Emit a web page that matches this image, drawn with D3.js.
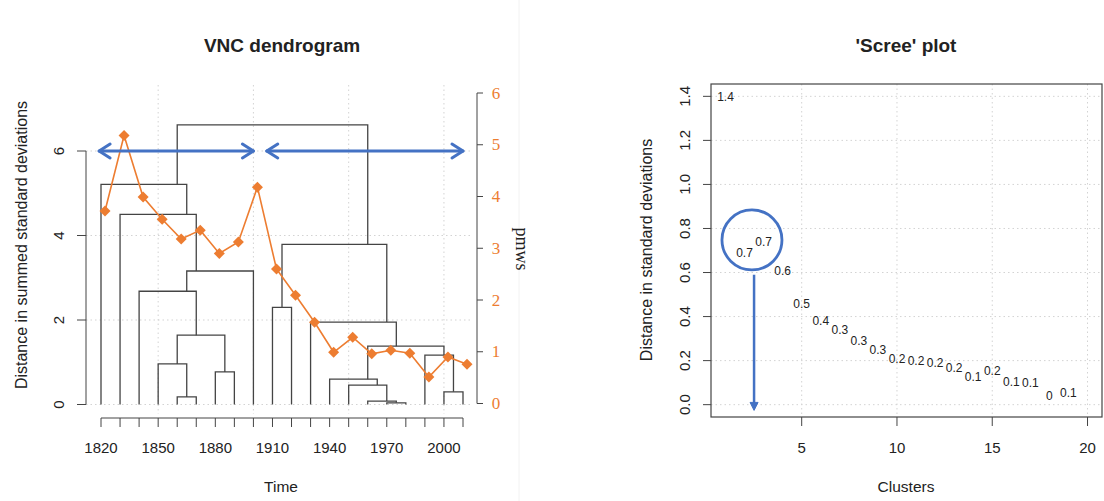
<!DOCTYPE html>
<html>
<head>
    <meta charset="utf-8">
    <title>VNC dendrogram and scree plot</title>
    <style>
        body { margin: 0; background: #fff; }
        text { font-family: "Liberation Sans", Arial, sans-serif; fill: #222; }
        .serif { font-family: "Liberation Serif", "Times New Roman", serif; }
        .grid { stroke: #d3d3d3; stroke-width: 1; stroke-dasharray: 1.5 3; fill: none; }
        .ax { stroke: #444; stroke-width: 1; fill: none; }
    </style>
    <script src="https://d3js.org/d3.v7.min.js"></script>
</head>
<body>
<svg id="chart"></svg>
<script>
    // ---- data ----
    const years = [1820, 1830, 1840, 1850, 1860, 1870, 1880, 1890, 1900, 1910,
        1920, 1930, 1940, 1950, 1960, 1970, 1980, 1990, 2000, 2010];
    const pmws = [3.72, 5.18, 3.99, 3.56, 3.18, 3.35, 2.90, 3.12, 4.18, 2.60,
        2.09, 1.57, 0.99, 1.28, 0.96, 1.03, 0.97, 0.51, 0.90, 0.76];
    // hclust style merges: negative = leaf number (1-based), positive = earlier merge row
    const mergeLeft = [-5, -4, -7, 2, -3, 5, -2, -1, -16, -15, -14, -13, -19, -18, 12, -12, -10, 17, 8];
    const mergeRight = [-6, 1, -8, 3, 4, -9, 6, 7, -17, 9, 10, 11, -20, 13, 14, 15, -11, 16, 18];
    const mergeHeight = [0.18, 0.96, 0.77, 1.64, 2.68, 3.16, 4.50, 5.21, 0.04, 0.08,
        0.46, 0.60, 0.30, 1.17, 1.38, 1.95, 2.30, 3.79, 6.62];
    const yearTickLabels = [1820, 1850, 1880, 1910, 1940, 1970, 2000];
    const leftTicks = [0, 2, 4, 6];
    const pmwsTicks = [0, 1, 2, 3, 4, 5, 6];
    const periodArrows = [[1819, 1900], [1907, 2010]];

    const clusters = d3.range(1, 20);
    const screeValues = [1.40, 0.69, 0.74, 0.61, 0.46, 0.38, 0.34, 0.29, 0.25, 0.21,
        0.20, 0.19, 0.17, 0.13, 0.155, 0.105, 0.10, 0.04, 0.055];
    const screeXTicks = [5, 10, 15, 20];
    const screeYTicks = [0, 0.2, 0.4, 0.6, 0.8, 1.0, 1.2, 1.4];

    const W = 1104, H = 501;
    const BLUE = '#4472c4', ORANGE = '#ed7d31';
    const svg = d3.select('#chart').attr('width', W).attr('height', H);

    // faint panel separator
    svg.append('line').attr('x1', 519).attr('x2', 519).attr('y1', 0).attr('y2', H)
        .attr('stroke', '#f2f2f2');

    // ================= left panel: VNC dendrogram =================
    const x = d3.scaleLinear().domain([1820, 2010]).range([101, 463]);
    const xp = d3.scaleLinear().domain([1820, 2010]).range([105, 467]); // overlay plot
    const yL = d3.scaleLinear().domain([0, 6]).range([404.5, 151]);
    const yR = d3.scaleLinear().domain([0, 6]).range([403.5, 93]);

    const left = svg.append('g');

    // grid
    [1850, 1900, 1950, 2000].forEach(v => left.append('line').attr('class', 'grid')
        .attr('x1', x(v)).attr('x2', x(v)).attr('y1', 85).attr('y2', 414));
    leftTicks.forEach(v => left.append('line').attr('class', 'grid')
        .attr('x1', 86).attr('x2', 471).attr('y1', yL(v)).attr('y2', yL(v)));

    // dendrogram nodes
    const nodes = [];
    function node(ref) {
        if (ref < 0) return {x: x(years[-ref - 1]), h: 0, leaves: [years[-ref - 1]]};
        return nodes[ref - 1];
    }
    mergeHeight.forEach((h, i) => {
        const a = node(mergeLeft[i]), b = node(mergeRight[i]);
        const leaves = a.leaves.concat(b.leaves);
        nodes.push({a, b, h, leaves, x: x(d3.mean(leaves))});
    });
    const dendro = left.append('g').attr('fill', 'none').attr('stroke', '#444').attr('stroke-width', 1.3);
    nodes.forEach(n => {
        dendro.append('path').attr('d',
            `M${n.a.x},${yL(n.a.h)}V${yL(n.h)}H${n.b.x}V${yL(n.b.h)}`);
    });

    // left axis
    left.append('path').attr('class', 'ax').attr('d', `M86,${yL(0)}V${yL(6)}`);
    leftTicks.forEach(v => {
        left.append('line').attr('class', 'ax').attr('x1', 77).attr('x2', 86)
            .attr('y1', yL(v)).attr('y2', yL(v));
        left.append('text').attr('transform', `translate(64,${yL(v)}) rotate(-90)`)
            .attr('text-anchor', 'middle').attr('font-size', 15).text(v);
    });
    left.append('text').attr('transform', 'translate(27,245) rotate(-90)')
        .attr('text-anchor', 'middle').attr('font-size', 16)
        .text('Distance in summed standard deviations');

    // bottom axis
    left.append('path').attr('class', 'ax').attr('d', `M${x(1820)},418H${x(2010)}`);
    years.forEach(v => left.append('line').attr('class', 'ax')
        .attr('x1', x(v)).attr('x2', x(v)).attr('y1', 418).attr('y2', 427));
    yearTickLabels.forEach(v => left.append('text').attr('x', x(v)).attr('y', 453)
        .attr('text-anchor', 'middle').attr('font-size', 15).text(v));
    left.append('text').attr('x', 281).attr('y', 492).attr('text-anchor', 'middle')
        .attr('font-size', 15.5).text('Time');

    // title
    left.append('text').attr('x', 282).attr('y', 52).attr('text-anchor', 'middle')
        .attr('font-size', 19).attr('font-weight', 'bold').text('VNC dendrogram');

    // right axis (pmws)
    left.append('path').attr('class', 'ax').attr('d', `M477,${yR(0)}V${yR(6)}`);
    pmwsTicks.forEach(v => {
        left.append('line').attr('class', 'ax').attr('x1', 477).attr('x2', 483)
            .attr('y1', yR(v)).attr('y2', yR(v));
        left.append('text').attr('class', 'serif').attr('x', 496).attr('y', yR(v) + 5.5)
            .attr('text-anchor', 'middle').attr('font-size', 17).style('fill', ORANGE).text(v);
    });
    left.append('text').attr('class', 'serif').attr('transform', 'translate(516,249) rotate(90)')
        .attr('text-anchor', 'middle').attr('font-size', 18).text('pmws');

    // pmws line
    const line = d3.line().x((d, i) => xp(years[i])).y(d => yR(d));
    left.append('path').datum(pmws).attr('d', line).attr('fill', 'none')
        .attr('stroke', ORANGE).attr('stroke-width', 1.6);
    left.selectAll('.pt').data(pmws).enter().append('path')
        .attr('d', 'M0,-5.5L5.5,0L0,5.5L-5.5,0Z').attr('fill', ORANGE)
        .attr('transform', (d, i) => `translate(${xp(years[i])},${yR(d)})`);

    // period arrows
    const arrows = left.append('g').attr('stroke', BLUE).attr('stroke-width', 3)
        .attr('fill', 'none').attr('stroke-linecap', 'round').attr('stroke-linejoin', 'round');
    periodArrows.forEach(([a, b]) => {
        const x1 = x(a), x2 = x(b), y = yL(6);
        arrows.append('path').attr('d', `M${x1},${y}H${x2}`);
        arrows.append('path').attr('d', `M${x1 + 11},${y - 7}L${x1},${y}L${x1 + 11},${y + 7}`);
        arrows.append('path').attr('d', `M${x2 - 11},${y - 7}L${x2},${y}L${x2 - 11},${y + 7}`);
    });

    // ================= right panel: scree plot =================
    const xs = d3.scaleLinear().domain([0.24, 20.76]).range([711, 1102]);
    const ys = d3.scaleLinear().domain([-0.056, 1.456]).range([417, 84]);
    const right = svg.append('g');

    screeXTicks.forEach(v => right.append('line').attr('class', 'grid')
        .attr('x1', xs(v)).attr('x2', xs(v)).attr('y1', 84).attr('y2', 417));
    screeYTicks.forEach(v => right.append('line').attr('class', 'grid')
        .attr('x1', 711).attr('x2', 1102).attr('y1', ys(v)).attr('y2', ys(v)));

    right.append('rect').attr('x', 711).attr('y', 84).attr('width', 1102 - 711).attr('height', 417 - 84)
        .attr('fill', 'none').attr('stroke', '#444').attr('stroke-width', 1.2);

    screeYTicks.forEach(v => {
        right.append('line').attr('class', 'ax').attr('x1', 703).attr('x2', 711)
            .attr('y1', ys(v)).attr('y2', ys(v));
        right.append('text').attr('transform', `translate(690,${ys(v)}) rotate(-90)`)
            .attr('text-anchor', 'middle').attr('font-size', 15).text(d3.format('.1f')(v));
    });
    screeXTicks.forEach(v => {
        right.append('line').attr('class', 'ax').attr('x1', xs(v)).attr('x2', xs(v))
            .attr('y1', 417).attr('y2', 426);
        right.append('text').attr('x', xs(v)).attr('y', 453).attr('text-anchor', 'middle')
            .attr('font-size', 15).text(v);
    });
    right.append('text').attr('transform', 'translate(652,250) rotate(-90)')
        .attr('text-anchor', 'middle').attr('font-size', 16).text('Distance in standard deviations');
    right.append('text').attr('x', 906).attr('y', 492).attr('text-anchor', 'middle')
        .attr('font-size', 15.5).text('Clusters');
    right.append('text').attr('x', 906).attr('y', 52).attr('text-anchor', 'middle')
        .attr('font-size', 19).attr('font-weight', 'bold').text("'Scree' plot");

    right.selectAll('.lab').data(screeValues).enter().append('text')
        .attr('x', (d, i) => xs(clusters[i])).attr('y', d => ys(d) + 4.5)
        .attr('text-anchor', 'middle').attr('font-size', 12)
        .text(d => String(Math.round(d * 10) / 10));

    // highlight circle and arrow
    right.append('circle').attr('cx', xs(2.39)).attr('cy', ys(0.748)).attr('r', 30)
        .attr('fill', 'none').attr('stroke', BLUE).attr('stroke-width', 2.8);
    const ax = xs(2.5), ay1 = ys(0.59), ay2 = ys(-0.026);
    right.append('line').attr('x1', ax).attr('x2', ax).attr('y1', ay1).attr('y2', ay2 - 4)
        .attr('stroke', BLUE).attr('stroke-width', 2.5);
    right.append('path').attr('d', `M${ax - 4},${ay2 - 8}L${ax + 4},${ay2 - 8}L${ax},${ay2}Z`)
        .attr('fill', BLUE).attr('stroke', BLUE).attr('stroke-width', 1);
</script>
</body>
</html>
